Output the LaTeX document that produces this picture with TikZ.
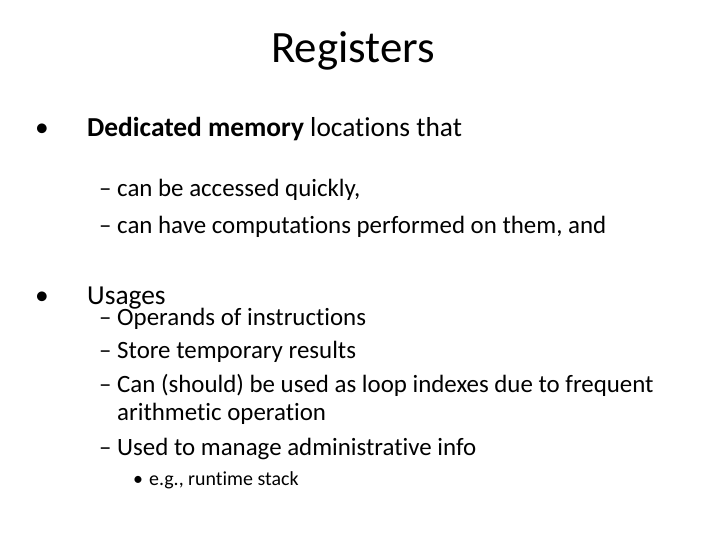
\documentclass[tikz,border=0pt]{standalone}
\usepackage{fontspec}
\setmainfont[RawFeature={-liga;-clig}]{Carlito}
\begin{document}
\begin{tikzpicture}[x=1bp,y=-1bp,
  t/.style={anchor=base west,inner sep=0pt,text=black},
  l1/.style={t,font=\fontsize{27.5}{32}\selectfont},
  l2/.style={t,font=\fontsize{25}{30}\selectfont},
  l3/.style={t,font=\fontsize{20}{24}\selectfont}]
\useasboundingbox[fill=white] (0,0) rectangle (720,540);
\node[anchor=base,inner sep=0pt,font=\fontsize{45}{52}\selectfont] (title) at (353,63) {Registers};
\node[l1] (b1) at (35,137) {•};
\node[l1] (t1) at (87,137) {\textbf{Dedicated memory} locations that};
\node[l2] (d1) at (99,197) {–};
\node[l2] (s1) at (117,197) {can be accessed quickly,};
\node[l2] (d2) at (99,234) {–};
\node[l2] (s2) at (117,234) {can have computations performed on them, and};
\node[l1] (b2) at (35,304) {•};
\node[l1] (t2) at (87,304) {Usages};
\node[l2] (d3) at (99,325) {–};
\node[l2] (s3) at (117,325) {Operands of instructions};
\node[l2] (d4) at (99,358) {–};
\node[l2] (s4) at (117,358) {Store temporary results};
\node[l2] (d5) at (99,392) {–};
\node[l2] (s5) at (117,392) {Can (should) be used as loop indexes due to frequent};
\node[l2] (s5b) at (117,420) {arithmetic operation};
\node[l2] (d6) at (99,455) {–};
\node[l2] (s6) at (117,455) {Used to manage administrative info};
\node[l3] (b3) at (133,485) {•};
\node[l3] (s7) at (149,485) {e.g., runtime stack};
\end{tikzpicture}
\end{document}
